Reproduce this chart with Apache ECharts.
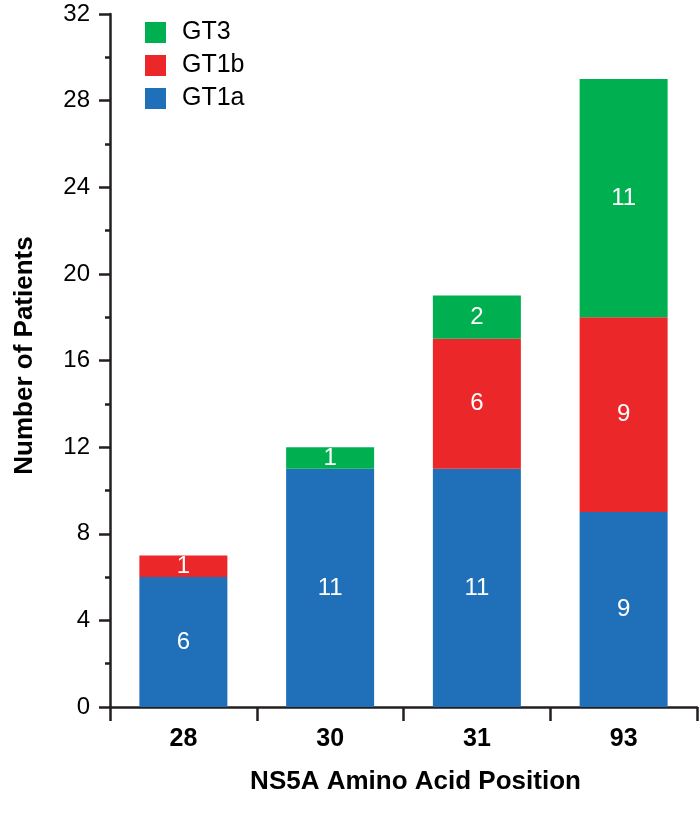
<!DOCTYPE html>
<html><head><meta charset="utf-8">
<script src="https://cdn.jsdelivr.net/npm/echarts@6/dist/echarts.min.js"></script>
<style>html,body{margin:0;padding:0;background:#fff}#c{width:700px;height:813px}</style>
</head><body><div id="c"></div>
<script>
const categories = ['28', '30', '31', '93'];
const gt1a = [6, 11, 11, 9];
const gt1b = [1, null, 6, 9];
const gt3 = [null, 1, 2, 11];
const yTicks = [0, 4, 8, 12, 16, 20, 24, 28, 32];

const FONT = '"Liberation Sans", Arial, sans-serif';
const lbl = {show: true, position: 'inside', color: '#fff', fontSize: 24, fontFamily: FONT};
const chart = echarts.init(document.getElementById('c'));
chart.setOption({
  animation: false,
  grid: {left: 110, right: 3, top: 14, bottom: 106},
  legend: {
    data: ['GT3', 'GT1b', 'GT1a'], orient: 'vertical', left: 145, top: 20, padding: 0,
    itemWidth: 21, itemHeight: 21, itemGap: 8, icon: 'rect',
    textStyle: {fontSize: 25, fontFamily: FONT, color: '#000', padding: [0, 0, 0, 11]}
  },
  xAxis: {
    type: 'category', data: categories,
    name: 'NS5A Amino Acid Position', nameLocation: 'middle', nameGap: 62,
    nameTextStyle: {fontSize: 26, fontWeight: 'bold', fontFamily: FONT, color: '#000', padding: [0, 0, 0, 24]},
    axisLine: {lineStyle: {color: '#231f20', width: 2.5}},
    axisTick: {show: true, length: 14, lineStyle: {width: 2.5, color: '#231f20'}},
    axisLabel: {fontSize: 25, fontWeight: 'bold', fontFamily: FONT, color: '#000', margin: 20}
  },
  yAxis: {
    type: 'value', min: yTicks[0], max: yTicks[yTicks.length - 1], interval: 4,
    name: 'Number of Patients', nameLocation: 'middle', nameGap: 72,
    nameTextStyle: {fontSize: 26, fontWeight: 'bold', fontFamily: FONT, color: '#000', padding: [0, 0, 0, 10]},
    axisLine: {show: true, lineStyle: {color: '#231f20', width: 2.5}},
    axisTick: {show: true, length: 11, lineStyle: {width: 2.5, color: '#231f20'}},
    minorTick: {show: true, splitNumber: 2, length: 5, lineStyle: {width: 2.5, color: '#231f20'}},
    splitLine: {show: false},
    axisLabel: {fontSize: 24, fontFamily: FONT, color: '#000', margin: 20}
  },
  series: [
    {name: 'GT1a', type: 'bar', stack: 's', data: gt1a, barWidth: 88, itemStyle: {color: '#1f70b9'}, label: lbl},
    {name: 'GT1b', type: 'bar', stack: 's', data: gt1b, barWidth: 88, itemStyle: {color: '#ec2729'}, label: lbl},
    {name: 'GT3', type: 'bar', stack: 's', data: gt3, barWidth: 88, itemStyle: {color: '#00b050'}, label: lbl}
  ]
});
</script></body></html>
